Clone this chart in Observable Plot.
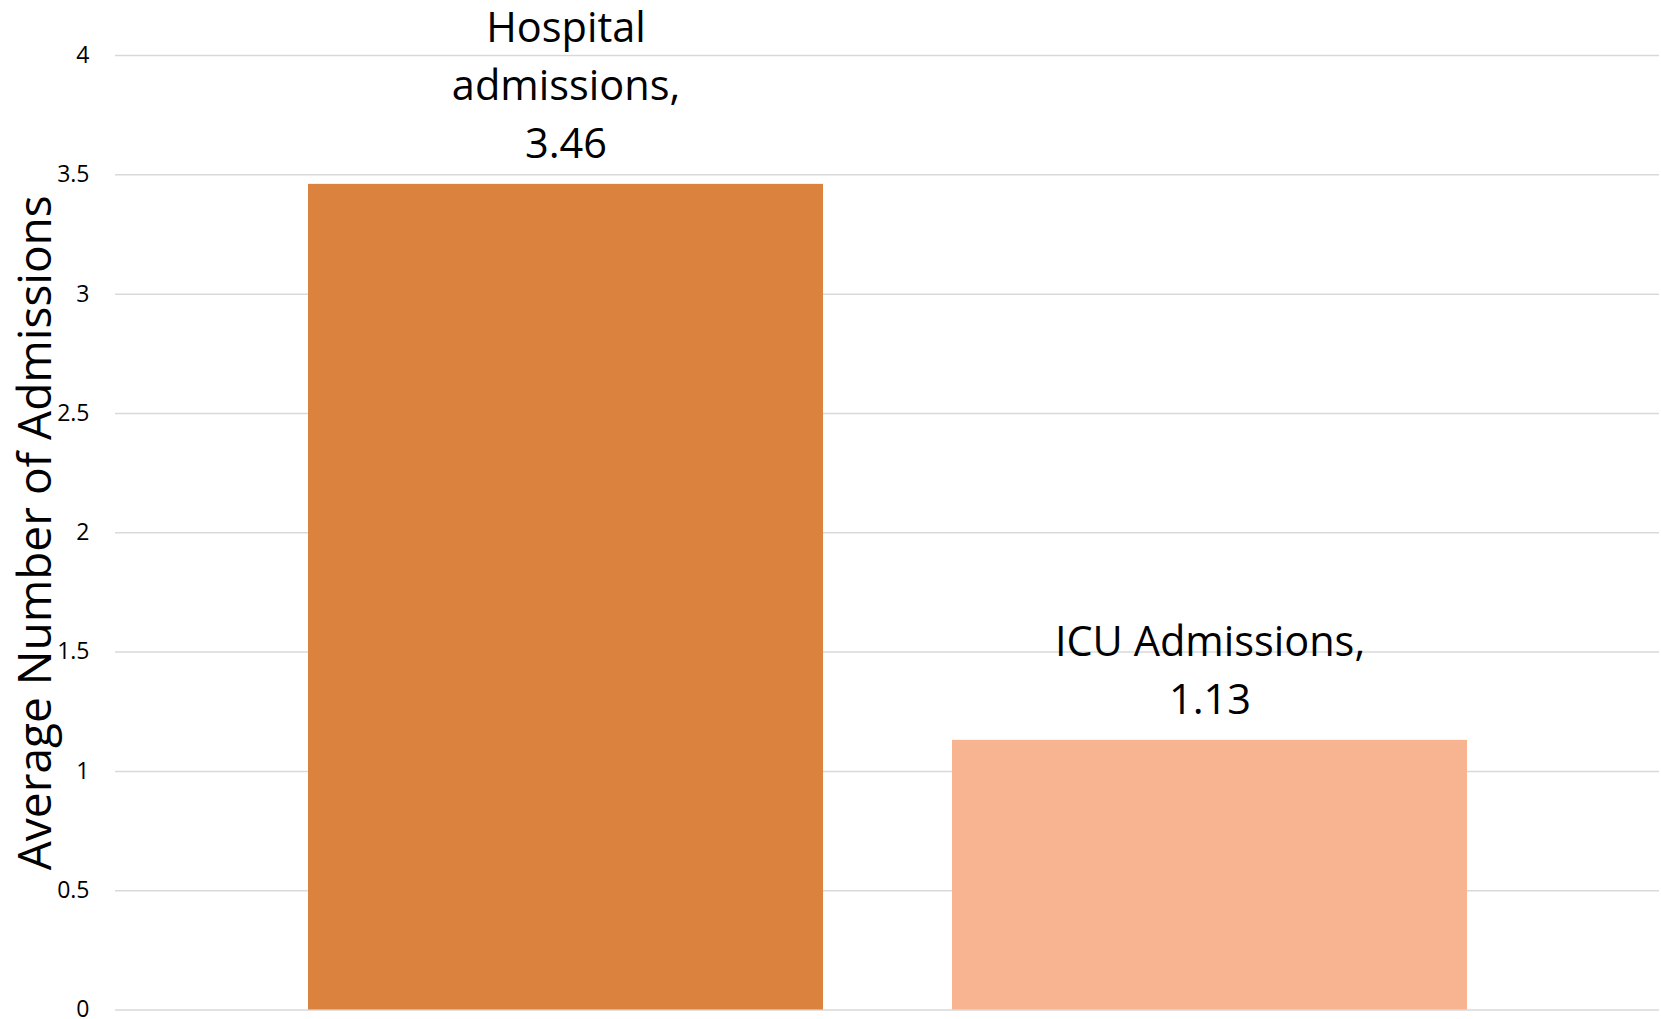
<!DOCTYPE html>
<html>
<head>
<meta charset="utf-8">
<script src="https://cdn.jsdelivr.net/npm/d3@7"></script>
<script src="https://cdn.jsdelivr.net/npm/@observablehq/plot@0.6"></script>
<style>
  html, body { margin: 0; padding: 0; background: #ffffff; }
  #chart svg { display: block; }
</style>
</head>
<body>
<div id="chart"></div>
<script>
// Average admissions per patient, by type
const categories = ["Hospital admissions", "ICU Admissions"];
const values = [3.46, 1.13];
const labelTexts = ["Hospital\nadmissions,\n3.46", "ICU Admissions,\n1.13"];
const barColors = ["#DB823F", "#F8B491"];
const yTicks = [0, 0.5, 1, 1.5, 2, 2.5, 3, 3.5, 4];
const yTitle = "Average Number of Admissions";

const rows = categories.map((c, i) => ({
  category: c,
  value: values[i],
  label: labelTexts[i],
  color: barColors[i]
}));

const font = "'Open Sans', 'Noto Sans', sans-serif";

const chart = Plot.plot({
  width: 1661,
  height: 1019,
  marginTop: 55,
  marginBottom: 9.5,
  marginLeft: 115,
  marginRight: 2,
  style: { fontFamily: font, color: "#000", background: "#fff" },
  x: {
    domain: categories,
    range: [243.5, 1531.5],
    paddingInner: 0.2,
    paddingOuter: 0.1,
    axis: null
  },
  y: { domain: [0, 4], axis: null },
  marks: [
    Plot.ruleY(yTicks, { stroke: "#d9d9d9", strokeWidth: 1.5 }),
    Plot.axisY(yTicks, {
      tickSize: 0,
      tickPadding: 26,
      fontSize: 23,
      fill: "#000",
      label: null,
      tickFormat: d => String(d)
    }),
    Plot.barY(rows, { x: "category", y: "value", fill: "color" }),
    // value labels above each bar
    Plot.text(rows, {
      x: "category", y: "value", text: "label",
      lineAnchor: "bottom", lineHeight: 1.4, dy: -26,
      fontSize: 41.5, fill: "#000"
    }),
    // rotated y-axis title, centred on the plot area
    Plot.text([yTitle], {
      text: d => d,
      frameAnchor: "left",
      textAnchor: "middle",
      rotate: -90,
      lineAnchor: "bottom",
      dx: -65,
      fontSize: 46,
      fill: "#000"
    })
  ]
});

document.getElementById("chart").append(chart);
</script>
</body>
</html>
